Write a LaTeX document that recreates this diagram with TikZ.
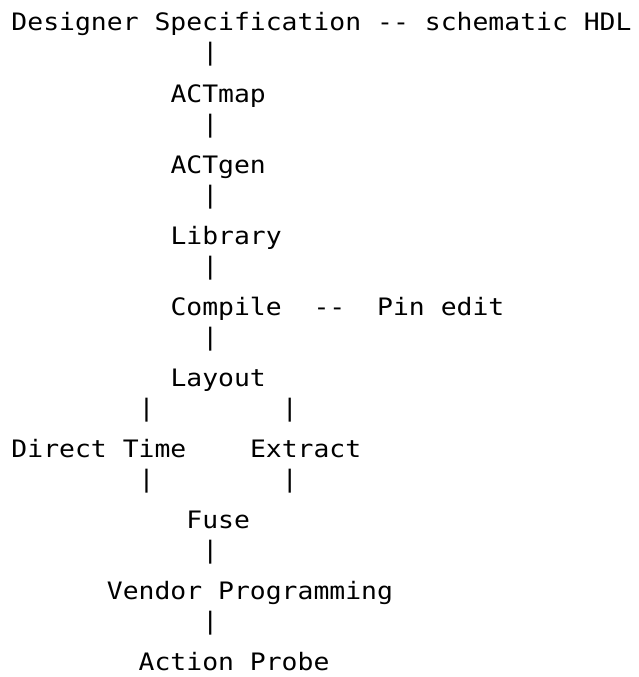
\documentclass[tikz,border=0pt]{standalone}
\usepackage{fontspec}
\newfontfamily\monofont[FakeStretch=1.10]{DejaVu Sans Mono}
\newcommand{\pitch}{15.9}
\newcommand{\lead}{35.5}
\tikzset{
  txt/.style={inner sep=0pt, outer sep=0pt, anchor=base west, font=\monofont\fontsize{24pt}{28pt}\selectfont, text=black},
  bar/.style={txt, yshift=5.5pt}
}
\begin{document}
\begin{tikzpicture}[x=1pt, y=-1pt]
\useasboundingbox[fill=white] (0,0) rectangle (638,677);
% column c, row r -> ( 11.5 + c*pitch , 31 + (r-1)*lead )
\node[txt] (spec)  at ({11.5+0*\pitch},{31+0*\lead}) {Designer Specification};
\node[txt] (dash1) at ({11.5+23*\pitch},{31+0*\lead}) {--};
\node[txt] (hdl)   at ({11.5+26*\pitch},{31+0*\lead}) {schematic HDL};
\node[bar] (b1)    at ({11.5+12*\pitch},{31+1*\lead}) {|};
\node[txt] (map)   at ({11.5+10*\pitch},{31+2*\lead}) {ACTmap};
\node[bar] (b2)    at ({11.5+12*\pitch},{31+3*\lead}) {|};
\node[txt] (gen)   at ({11.5+10*\pitch},{31+4*\lead}) {ACTgen};
\node[bar] (b3)    at ({11.5+12*\pitch},{31+5*\lead}) {|};
\node[txt] (lib)   at ({11.5+10*\pitch},{31+6*\lead}) {Library};
\node[bar] (b4)    at ({11.5+12*\pitch},{31+7*\lead}) {|};
\node[txt] (comp)  at ({11.5+10*\pitch},{31+8*\lead}) {Compile};
\node[txt] (dash2) at ({11.5+19*\pitch},{31+8*\lead}) {--};
\node[txt] (pin)   at ({11.5+23*\pitch},{31+8*\lead}) {Pin edit};
\node[bar] (b5)    at ({11.5+12*\pitch},{31+9*\lead}) {|};
\node[txt] (lay)   at ({11.5+10*\pitch},{31+10*\lead}) {Layout};
\node[bar] (b6a)   at ({11.5+8*\pitch},{31+11*\lead}) {|};
\node[bar] (b6b)   at ({11.5+17*\pitch},{31+11*\lead}) {|};
\node[txt] (dt)    at ({11.5+0*\pitch},{31+12*\lead}) {Direct Time};
\node[txt] (ext)   at ({11.5+15*\pitch},{31+12*\lead}) {Extract};
\node[bar] (b7a)   at ({11.5+8*\pitch},{31+13*\lead}) {|};
\node[bar] (b7b)   at ({11.5+17*\pitch},{31+13*\lead}) {|};
\node[txt] (fuse)  at ({11.5+11*\pitch},{31+14*\lead}) {Fuse};
\node[bar] (b8)    at ({11.5+12*\pitch},{31+15*\lead}) {|};
\node[txt] (vend)  at ({11.5+6*\pitch},{31+16*\lead}) {Vendor Programming};
\node[bar] (b9)    at ({11.5+12*\pitch},{31+17*\lead}) {|};
\node[txt] (probe) at ({11.5+8*\pitch},{31+18*\lead}) {Action Probe};
\end{tikzpicture}
\end{document}
